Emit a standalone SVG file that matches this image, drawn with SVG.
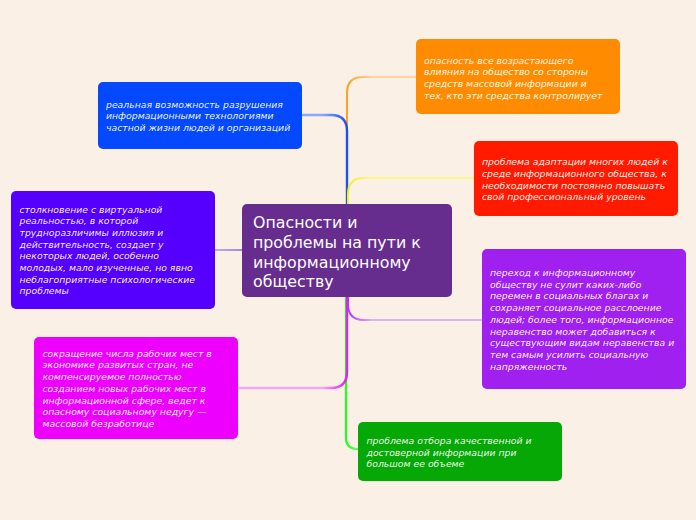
<svg xmlns="http://www.w3.org/2000/svg" width="696" height="520" viewBox="0 0 696 520">
<defs>
<style>
.t{font-family:"DejaVu Sans","Liberation Sans",sans-serif;font-size:9.3px;font-style:italic;fill:#ffffff;fill-opacity:0.94}
.title{font-family:"DejaVu Sans","Liberation Sans",sans-serif;font-size:15.8px;fill:#ffffff}
.c{fill:none;stroke-linecap:round}
</style>
<linearGradient id="gBlue" gradientUnits="userSpaceOnUse" x1="347" y1="0" x2="322" y2="0"><stop offset="0" stop-color="#1e50f0"/><stop offset="1" stop-color="#8aa6ff"/></linearGradient>
<linearGradient id="gOrange" gradientUnits="userSpaceOnUse" x1="347" y1="0" x2="372" y2="0"><stop offset="0" stop-color="#ffa020"/><stop offset="1" stop-color="#ffd4a0"/></linearGradient>
<linearGradient id="gYellow" gradientUnits="userSpaceOnUse" x1="347" y1="0" x2="372" y2="0"><stop offset="0" stop-color="#f4f020"/><stop offset="1" stop-color="#fbf78a"/></linearGradient>
<linearGradient id="gViolet" gradientUnits="userSpaceOnUse" x1="242" y1="0" x2="215" y2="0"><stop offset="0" stop-color="#a884e6"/><stop offset="1" stop-color="#c0a8f0"/></linearGradient>
<linearGradient id="gPurple" gradientUnits="userSpaceOnUse" x1="347" y1="0" x2="372" y2="0"><stop offset="0" stop-color="#b030f0"/><stop offset="1" stop-color="#e0b0f4"/></linearGradient>
<linearGradient id="gPink" gradientUnits="userSpaceOnUse" x1="347" y1="0" x2="322" y2="0"><stop offset="0" stop-color="#e020f0"/><stop offset="1" stop-color="#f4a8f4"/></linearGradient>
<linearGradient id="gGreen" gradientUnits="userSpaceOnUse" x1="347" y1="0" x2="360" y2="0"><stop offset="0" stop-color="#20ff20"/><stop offset="1" stop-color="#70ff70"/></linearGradient>
</defs>
<rect x="0" y="0" width="696" height="520" fill="#faf0e6"/>
<g id="connectors">
<path class="c" stroke="url(#gOrange)" stroke-width="2" d="M347,204 L347,93 Q347,77 363,77 L416,77"/>
<path class="c" stroke="url(#gBlue)" stroke-width="2.4" d="M347,204 L347,131 Q347,115 331,115 L302,115"/>
<path class="c" stroke="url(#gYellow)" stroke-width="2" d="M348,204 L348,194 Q348,178 364,178 L473,178"/>
<path class="c" stroke="url(#gViolet)" stroke-width="2" d="M242,250 L215,250"/>
<path class="c" stroke="url(#gGreen)" stroke-width="2.2" d="M346,297 L346,438 Q346,449 358,449"/>
<path class="c" stroke="url(#gPurple)" stroke-width="2" d="M348,297 L348,304 Q348,320 364,320 L481,320"/>
<path class="c" stroke="url(#gPink)" stroke-width="2.4" d="M347,297 L347,372 Q347,388 331,388 L238,388"/>
</g>
<g id="center">
<rect x="242" y="204" width="210" height="93" rx="5" fill="#662d8f"/>
<text class="title" x="253"><tspan x="253" y="228">Опасности и</tspan><tspan x="253" y="248">проблемы на пути к</tspan><tspan x="253" y="267.5">информационному</tspan><tspan x="253" y="287">обществу</tspan></text>
</g>
<g id="n-blue">
<rect x="98" y="82" width="204" height="67" rx="5" fill="#0449ff"/>
<text class="t"><tspan x="106" y="107.5">реальная возможность разрушения</tspan><tspan x="106" y="119.2">информационными технологиями</tspan><tspan x="106" y="130.9">частной жизни людей и организаций</tspan></text>
</g>
<g id="n-orange">
<rect x="416" y="39" width="204" height="75" rx="5" fill="#ff8c00"/>
<text class="t"><tspan x="424" y="63.5">опасность все возрастающего</tspan><tspan x="424" y="75.2">влияния на общество со стороны</tspan><tspan x="424" y="86.9">средств массовой информации и</tspan><tspan x="424" y="98.6">тех, кто эти средства контролирует</tspan></text>
</g>
<g id="n-red">
<rect x="474" y="141" width="204" height="75" rx="5" fill="#ff1a00"/>
<text class="t"><tspan x="482" y="165.3">проблема адаптации многих людей к</tspan><tspan x="482" y="177">среде информационного общества, к</tspan><tspan x="482" y="188.7">необходимости постоянно повышать</tspan><tspan x="482" y="200.4">свой профессиональный уровень</tspan></text>
</g>
<g id="n-violet">
<rect x="11" y="191" width="204" height="118" rx="5" fill="#5500ff"/>
<text class="t"><tspan x="19.5" y="212.5">столкновение с виртуальной</tspan><tspan x="19.5" y="224.2">реальностью, в которой</tspan><tspan x="19.5" y="235.9">трудноразличимы иллюзия и</tspan><tspan x="19.5" y="247.6">действительность, создает у</tspan><tspan x="19.5" y="259.3">некоторых людей, особенно</tspan><tspan x="19.5" y="271">молодых, мало изученные, но явно</tspan><tspan x="19.5" y="282.7">неблагоприятные психологические</tspan><tspan x="19.5" y="294.4">проблемы</tspan></text>
</g>
<g id="n-purple">
<rect x="482" y="249" width="204" height="140" rx="5" fill="#a020f0"/>
<text class="t"><tspan x="490" y="276">переход к информационному</tspan><tspan x="490" y="287.7">обществу не сулит каких-либо</tspan><tspan x="490" y="299.4">перемен в социальных благах и</tspan><tspan x="490" y="311.1">сохраняет социальное расслоение</tspan><tspan x="490" y="322.8">людей; более того, информационное</tspan><tspan x="490" y="334.5">неравенство может добавиться к</tspan><tspan x="490" y="346.2">существующим видам неравенства и</tspan><tspan x="490" y="357.9">тем самым усилить социальную</tspan><tspan x="490" y="369.6">напряженность</tspan></text>
</g>
<g id="n-pink">
<rect x="34" y="337" width="204" height="102" rx="5" fill="#ee00ff"/>
<text class="t"><tspan x="42.5" y="356.7">сокращение числа рабочих мест в</tspan><tspan x="42.5" y="368.4">экономике развитых стран, не</tspan><tspan x="42.5" y="380.1">компенсируемое полностью</tspan><tspan x="42.5" y="391.8">созданием новых рабочих мест в</tspan><tspan x="42.5" y="403.5">информационной сфере, ведет к</tspan><tspan x="42.5" y="415.2">опасному социальному недугу —</tspan><tspan x="42.5" y="426.9">массовой безработице</tspan></text>
</g>
<g id="n-green">
<rect x="358" y="422" width="204" height="59" rx="5" fill="#05a805"/>
<text class="t"><tspan x="366.5" y="443.8">проблема отбора качественной и</tspan><tspan x="366.5" y="455.5">достоверной информации при</tspan><tspan x="366.5" y="467.2">большом ее объеме</tspan></text>
</g>
</svg>
